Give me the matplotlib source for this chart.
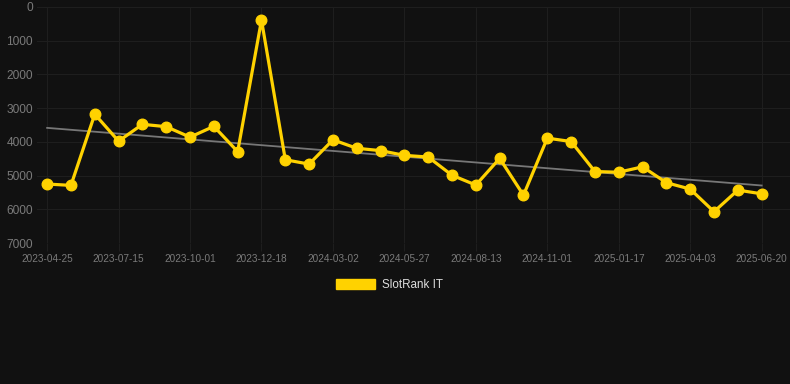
import numpy as np
import matplotlib
matplotlib.use("Agg")
import matplotlib.pyplot as plt
from matplotlib.patches import Patch

# Rank per sample (lower is better, axis inverted)
ranks = [5250, 5290, 3180, 3980, 3480, 3550, 3860, 3540, 4290, 390,
         4530, 4660, 3940, 4190, 4260, 4400, 4450, 4990, 5280, 4490,
         5580, 3890, 3990, 4880, 4900, 4740, 5210, 5400, 6070, 5430,
         5540]
tick_labels = ['2023-04-25', '2023-07-15', '2023-10-01', '2023-12-18',
               '2024-03-02', '2024-05-27', '2024-08-13', '2024-11-01',
               '2025-01-17', '2025-04-03', '2025-06-20']
y_ticks = [0, 1000, 2000, 3000, 4000, 5000, 6000, 7000]
series_name = 'SlotRank IT'

bg = '#111111'
gold = '#FFD200'

plt.rcParams['font.family'] = ['Liberation Sans', 'DejaVu Sans']

fig = plt.figure(figsize=(7.9, 3.84), dpi=100, facecolor=bg)
ax = fig.add_axes([0.047, 0.367, 0.953, 0.615])
ax.set_facecolor(bg)

x = np.arange(len(ranks))

# linea de tendencia (ajuste lineal)
coef = np.polyfit(x, ranks, 1)
ax.plot(x, np.polyval(coef, x), color='#777777', linewidth=1.3, zorder=2)

ax.plot(x, ranks, color=gold, linewidth=2.3, marker='o', markersize=7.6,
        markerfacecolor=gold, markeredgecolor=gold, zorder=3)

ax.set_ylim(7000, 0)
ax.set_xlim(-0.42, 31.19)
ax.set_yticks(y_ticks)
ax.set_xticks(x[::3])
ax.set_xticklabels(tick_labels)

ax.grid(True, color='#1e1e1e', linewidth=0.8)
ax.set_axisbelow(True)
for s in ax.spines.values():
    s.set_visible(False)
ax.tick_params(axis='y', length=0, pad=3, labelsize=8.6, labelcolor='#7a7a7a')
ax.tick_params(axis='x', length=6, color='#1e1e1e', pad=2, labelsize=7.2,
               labelcolor='#7a7a7a')

handle = Patch(facecolor=gold, edgecolor=gold)
fig.legend([handle], [series_name], loc='center', bbox_to_anchor=(0.493, 0.258),
           frameon=False, fontsize=8.4, labelcolor='#dddddd',
           handlelength=3.4, handleheight=0.95, handletextpad=0.6)

fig.savefig('out.png', facecolor=bg)
